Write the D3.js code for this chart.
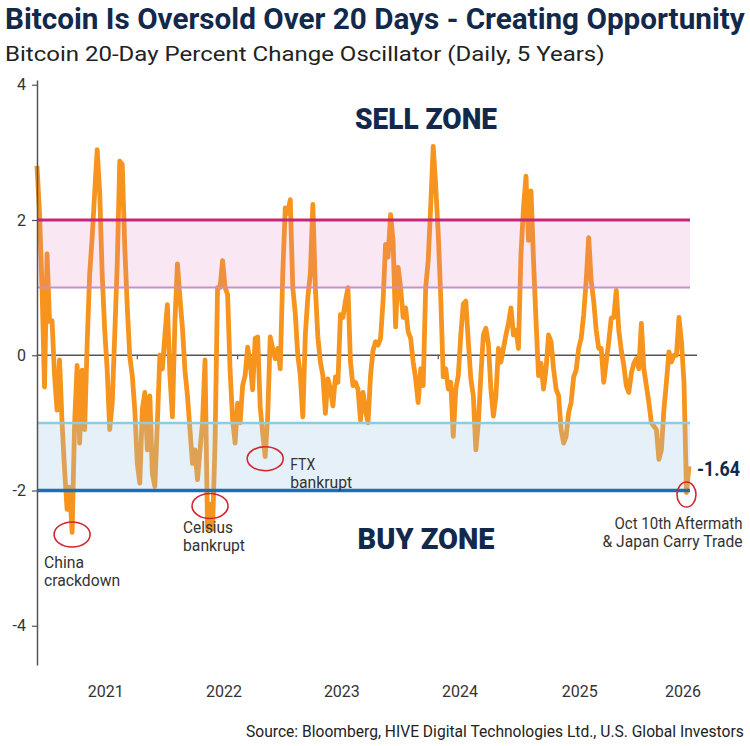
<!DOCTYPE html>
<html>
<head>
<meta charset="utf-8">
<script src="https://cdn.jsdelivr.net/npm/d3@7"></script>
<style>
  body { margin: 0; background: #fff; }
  svg text { font-family: Roboto, "Liberation Sans", sans-serif; }
</style>
</head>
<body>
<div id="chart"></div>
<script>
// weekly samples of the daily 20-day oscillator, first week below
const startWeek = "2021-02-07";
const oscillator = [
  2.8, 2.1, 1.0, -0.47, 1.5, 0.5, 0.51, -0.3, -0.81, -0.07,
  -1.0, -1.7, -2.28, -1.95, -2.62, -1.0, -0.15, -1.3, -0.22, -1.1,
  0.17, 1.2, 1.74, 2.4, 3.04, 2.4, 1.2, 0.37, -0.22, -1.1,
  -0.71, 0.3, 1.35, 2.87, 2.82, 1.6, 0.71, -0.02, -0.3, -0.81,
  -1.6, -1.89, -0.8, -0.55, -1.4, -0.6, -1.75, -1.94, -1.0, 0.0,
  -0.2, 0.3, 0.75, -0.3, -0.91, 0.5, 1.35, 0.85, 0.4, -0.22,
  -0.6, -1.1, -1.6, -1.4, -1.84, -1.4, -1.0, -0.07, -2.57, -2.2,
  -2.57, -1.3, 1.0, 1.0, 1.4, 1.0, 0.9, -0.22, -0.95, -1.3,
  -0.71, -1.0, -0.45, -0.3, 0.12, -0.12, -0.51, 0.25, 0.27, -0.76,
  -1.15, -1.5, -0.9, 0.27, 0.1, -0.05, 0.1, -0.2, 1.2, 2.18,
  2.1, 2.3, 1.0, 0.61, 0.0, -0.3, -0.91, 0.3, 0.86, 1.2,
  2.23, 1.0, 0.27, -0.1, -0.3, -0.86, -0.35, -0.5, -0.75, -0.32,
  -0.4, 0.6, 0.56, 0.8, 1.0, -0.1, -0.45, -0.4, -0.5, -0.96,
  -0.55, -0.8, -1.0, -0.3, 0.07, 0.2, 0.15, 0.25, 0.8, 1.64,
  1.45, 2.08, 1.69, 0.42, 1.3, 1.0, 0.56, 0.7, 0.35, 0.25,
  -0.1, -0.35, -0.7, -0.2, -0.45, 1.0, 1.4, 2.2, 3.09, 2.5,
  1.8, 0.86, -0.32, -0.2, -0.5, -0.4, -1.2, -0.5, -0.3, 0.3,
  0.76, 0.8, 0.2, -0.35, -0.6, -1.4, -1.0, -0.3, 0.3, 0.4,
  0.17, -0.5, -0.9, -0.6, 0.1, -0.1, 0.1, 0.3, 0.47, 0.7,
  0.3, 0.37, 0.1, 1.5, 2.18, 2.65, 1.7, 2.43, 1.4, 0.5,
  -0.3, -0.12, -0.5, -0.2, 0.3, 0.2, -0.2, -0.5, -0.6, -1.1,
  -1.3, -1.2, -0.85, -0.7, -0.32, -0.22, 0.1, 0.25, 0.6, 1.1,
  1.74, 1.1, 0.8, 0.37, 0.1, 0.1, -0.4, -0.1, 0.2, 0.55,
  0.56, 0.96, 0.37, 0.07, -0.15, -0.45, -0.55, -0.27, -0.12, -0.05,
  -0.2, 0.47, -0.2, -0.45, -0.7, -1.0, -1.05, -1.1, -1.54, -1.4,
  -0.8, -0.4, 0.05, -0.1, 0.0, 0.0, 0.56, 0.2, -0.4, -2.03,
  -1.64
];

const yTicks = [4, 2, 0, -2, -4];
const yearLabels = ["2021", "2022", "2023", "2024", "2025", "2026"];
const yearLabelDates = ["2021-08-18", "2022-07-14", "2023-06-08", "2024-05-03", "2025-04-02", "2026-01-15"];

const sellZone = [1, 2];
const buyZone = [-2, -1];

const eventNames = ["China crackdown", "Celsius bankrupt", "FTX bankrupt", "Oct 10th Aftermath & Japan Carry Trade"];
const eventWeeks = [14, 69, 91, 259];

const titleText = "Bitcoin Is Oversold Over 20 Days - Creating Opportunity";
const subtitleText = "Bitcoin 20-Day Percent Change Oscillator (Daily, 5 Years)";
const sourceText = "Source: Bloomberg, HIVE Digital Technologies Ltd., U.S. Global Investors";

// ---------------------------------------------------------------
const width = 750, height = 746;
const navy = "#13294b";
const parse = d3.timeParse("%Y-%m-%d");
const t0 = parse(startWeek);
const series = oscillator.map((v, i) => ({date: d3.timeDay.offset(t0, 7 * i), value: v}));

const svg = d3.select("#chart").append("svg")
  .attr("width", width)
  .attr("height", height);

const x = d3.scaleTime()
  .domain(d3.extent(series, d => d.date))
  .range([37, 689]);
const y = d3.scaleLinear()
  .domain([-4.58, 4.07])
  .range([665, 80]);

const plotRight = 690;

// squeeze a text horizontally to a given width (the chart uses a condensed face)
function fitText(sel, w) {
  const len = sel.node().getComputedTextLength();
  const k = Math.min(1.2, w / len);
  const x0 = +sel.attr("x"), y0 = +sel.attr("y");
  sel.attr("x", 0).attr("y", 0)
    .attr("transform", `translate(${x0},${y0}) scale(${k},1)`);
  return sel;
}

// titles
fitText(svg.append("text")
  .attr("x", 5).attr("y", 29)
  .style("font-size", "29px").style("font-weight", 700)
  .attr("fill", navy)
  .text(titleText), 740);
fitText(svg.append("text")
  .attr("x", 5).attr("y", 61)
  .style("font-size", "21px")
  .attr("fill", "#222")
  .text(subtitleText), 600);

// zero line with small ticks
svg.append("line")
  .attr("x1", 37).attr("x2", 697)
  .attr("y1", y(0)).attr("y2", y(0))
  .attr("stroke", "#555").attr("stroke-width", 1.5);
const zeroTicks = d3.range(1, 7).map(k => d3.timeDay.offset(t0, 280 * k));
svg.selectAll(".ztick").data(zeroTicks).join("line")
  .attr("class", "ztick")
  .attr("x1", d => x(d)).attr("x2", d => x(d))
  .attr("y1", y(0)).attr("y2", y(0) + 4)
  .attr("stroke", "#555").attr("stroke-width", 1.2);

// oscillator line
const line = d3.line()
  .x(d => x(d.date))
  .y(d => y(d.value));
svg.append("path")
  .datum(series)
  .attr("d", line)
  .attr("fill", "none")
  .attr("stroke", "#F7941D")
  .attr("stroke-width", 4.8)
  .attr("stroke-linejoin", "round");

// zones (drawn over the line, translucent)
svg.append("rect")
  .attr("x", 37).attr("width", plotRight - 37)
  .attr("y", y(sellZone[1])).attr("height", y(sellZone[0]) - y(sellZone[1]))
  .attr("fill", "rgb(220,130,190)").attr("fill-opacity", 0.18);
svg.append("rect")
  .attr("x", 37).attr("width", plotRight - 37)
  .attr("y", y(buyZone[1])).attr("height", y(buyZone[0]) - y(buyZone[1]))
  .attr("fill", "rgb(160,200,230)").attr("fill-opacity", 0.28);

function hline(v, color, w) {
  svg.append("line")
    .attr("x1", 37).attr("x2", plotRight)
    .attr("y1", y(v)).attr("y2", y(v))
    .attr("stroke", color).attr("stroke-width", w);
}
hline(sellZone[1], "#c4267e", 3);
hline(sellZone[0], "#c98fc8", 2);
hline(buyZone[1], "#8ccbe0", 2.5);
hline(buyZone[0], "#1b6fba", 3.5);

// y axis
const yAxis = svg.append("g")
  .attr("transform", "translate(37,0)")
  .call(d3.axisLeft(y).tickValues(yTicks).tickSize(5).tickPadding(6)
    .tickSizeOuter(0).tickFormat(d => String(d)));
yAxis.select(".domain").attr("stroke", "#555").attr("stroke-width", 1.5);
yAxis.selectAll(".tick line").attr("stroke", "#555").attr("stroke-width", 1.2);
yAxis.selectAll(".tick text")
  .attr("fill", "#333")
  .style("font-size", "16px")
  .style("font-family", "Roboto, sans-serif");

// year labels
svg.selectAll(".year").data(yearLabels).join("text")
  .attr("class", "year")
  .attr("x", (d, i) => x(parse(yearLabelDates[i])))
  .attr("y", 697)
  .attr("text-anchor", "middle")
  .attr("fill", "#333")
  .style("font-size", "16px")
  .text(d => d);

// zone titles
svg.append("text")
  .attr("x", 426).attr("y", 129)
  .attr("text-anchor", "middle")
  .attr("textLength", 142).attr("lengthAdjust", "spacingAndGlyphs")
  .style("font-size", "30px").style("font-weight", 900)
  .attr("fill", navy)
  .text("SELL ZONE");
svg.append("text")
  .attr("x", 426).attr("y", 549)
  .attr("text-anchor", "middle")
  .attr("textLength", 137).attr("lengthAdjust", "spacingAndGlyphs")
  .style("font-size", "30px").style("font-weight", 900)
  .attr("fill", navy)
  .text("BUY ZONE");

// event circles and labels
const labelLayout = [
  {dx: -28, dy: 36, anchor: "start", lines: ["China", "crackdown"], widths: [40, 76]},
  {dx: -27, dy: 29, anchor: "start", lines: ["Celsius", "bankrupt"], widths: [50, 62]},
  {dx: 25, dy: 13, anchor: "start", lines: ["FTX", "bankrupt"], widths: [25, 62]},
  {dx: 56, dy: 36, anchor: "end", lines: ["Oct 10th Aftermath", "& Japan Carry Trade"], widths: [128, 140]}
];
const ellipseSize = [[18, 12.5], [18, 12.5], [18, 12], [9.5, 12.5]];

eventWeeks.forEach((w, i) => {
  const p = series[w];
  const cx = x(p.date), cy = y(p.value);
  svg.append("ellipse")
    .attr("cx", cx).attr("cy", cy + 2)
    .attr("rx", ellipseSize[i][0]).attr("ry", ellipseSize[i][1])
    .attr("fill", "none")
    .attr("stroke", "#d22630").attr("stroke-width", 1.6);
  const lay = labelLayout[i];
  lay.lines.forEach((t, j) => {
    svg.append("text")
      .attr("x", cx + lay.dx)
      .attr("y", cy + lay.dy + j * 18)
      .attr("text-anchor", lay.anchor)
      .attr("textLength", lay.widths[j]).attr("lengthAdjust", "spacingAndGlyphs")
      .attr("fill", "#333")
      .style("font-size", "16px")
      .text(t);
  });
});

// last value label
const last = series[series.length - 1];
svg.append("text")
  .attr("x", x(last.date) + 8)
  .attr("y", y(last.value) + 10)
  .attr("textLength", 43).attr("lengthAdjust", "spacingAndGlyphs")
  .attr("fill", navy)
  .style("font-size", "20px").style("font-weight", 700)
  .text(last.value.toFixed(2));

// source
fitText(svg.append("text")
  .attr("x", 246).attr("y", 737)
  .attr("fill", "#222")
  .style("font-size", "16px")
  .text(sourceText), 498);
</script>
</body>
</html>
